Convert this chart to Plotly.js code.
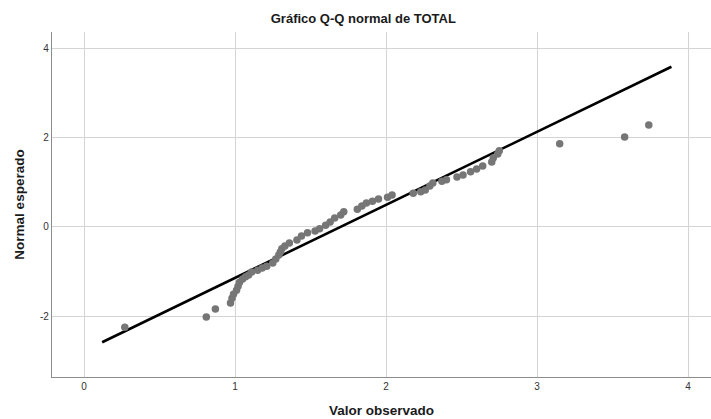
<!DOCTYPE html>
<html>
<head>
<meta charset="utf-8">
<script src="https://cdn.plot.ly/plotly-3.0.1.min.js"></script>
<style>html,body{margin:0;padding:0;background:#fff;}#chart{width:711px;height:419px;}</style>
</head>
<body>
<div id="chart"></div>
<script>
// Observed values (Valor observado)
var observed = [0.27, 0.81, 0.87, 0.97, 0.98, 0.99, 1.01, 1.02, 1.03, 1.05, 1.07, 1.09, 1.11, 1.15, 1.18, 1.21, 1.25, 1.27, 1.29, 1.30, 1.31, 1.33, 1.36, 1.41, 1.44, 1.48, 1.53, 1.56, 1.60, 1.63, 1.66, 1.70, 1.72, 1.81, 1.84, 1.87, 1.91, 1.95, 2.01, 2.04, 2.18, 2.23, 2.26, 2.29, 2.31, 2.37, 2.40, 2.47, 2.51, 2.56, 2.60, 2.64, 2.70, 2.71, 2.74, 2.75, 3.15, 3.58, 3.74];
// Expected normal values (Normal esperado)
var expected = [-2.25, -2.02, -1.84, -1.71, -1.60, -1.51, -1.42, -1.33, -1.24, -1.17, -1.12, -1.08, -1.01, -0.97, -0.92, -0.88, -0.81, -0.72, -0.63, -0.56, -0.49, -0.43, -0.36, -0.29, -0.20, -0.13, -0.09, -0.04, 0.04, 0.11, 0.20, 0.27, 0.34, 0.40, 0.47, 0.54, 0.58, 0.63, 0.67, 0.72, 0.76, 0.79, 0.83, 0.92, 0.99, 1.03, 1.06, 1.12, 1.17, 1.24, 1.30, 1.37, 1.46, 1.55, 1.64, 1.71, 1.87, 2.02, 2.29];
// Reference line end points
var lineX = [0.12, 3.89];
var lineY = [-2.59, 3.60];
var xTicks = [0, 1, 2, 3, 4];
var yTicks = [-2, 0, 2, 4];

var traces = [
  {x: lineX, y: lineY, type: 'scatter', mode: 'lines',
   line: {color: '#000000', width: 2.6}, hoverinfo: 'skip', showlegend: false},
  {x: observed, y: expected, type: 'scatter', mode: 'markers',
   marker: {color: '#767676', size: 7.5, line: {width: 0}}, showlegend: false}
];

var axisFont = {family: 'Liberation Sans, Arial, sans-serif', size: 10, color: '#333333'};
var layout = {
  width: 711, height: 419,
  margin: {l: 52, r: 0, t: 32, b: 42},
  paper_bgcolor: '#ffffff', plot_bgcolor: '#ffffff',
  title: {text: 'Gráfico Q-Q normal de TOTAL', x: 0.511, xref: 'container', y: 0.955, yref: 'container', yanchor: 'middle',
          font: {family: 'Liberation Sans, Arial, sans-serif', size: 13, color: '#1a1a1a', weight: 'bold'}},
  xaxis: {range: [-0.212, 4.152], tickvals: xTicks, ticktext: xTicks.map(String),
          showgrid: true, gridcolor: '#d4d4d4', gridwidth: 1, zeroline: false,
          showline: true, linecolor: '#8c8c8c', linewidth: 1.2, ticks: '', ticklen: 0,
          tickfont: axisFont, fixedrange: true,
          title: {text: 'Valor observado', standoff: 14,
                  font: {family: 'Liberation Sans, Arial, sans-serif', size: 13.5, color: '#1a1a1a', weight: 'bold'}}},
  yaxis: {range: [-3.37, 4.38], tickvals: yTicks, ticktext: yTicks.map(String),
          showgrid: true, gridcolor: '#d4d4d4', gridwidth: 1, zeroline: false,
          showline: true, linecolor: '#8c8c8c', linewidth: 1.2, ticks: '', ticklen: 0,
          tickfont: axisFont, fixedrange: true,
          title: {text: 'Normal esperado', standoff: 12,
                  font: {family: 'Liberation Sans, Arial, sans-serif', size: 13.5, color: '#1a1a1a', weight: 'bold'}}},
  showlegend: false
};
Plotly.newPlot('chart', traces, layout, {displayModeBar: false, staticPlot: true});
</script>
</body>
</html>
